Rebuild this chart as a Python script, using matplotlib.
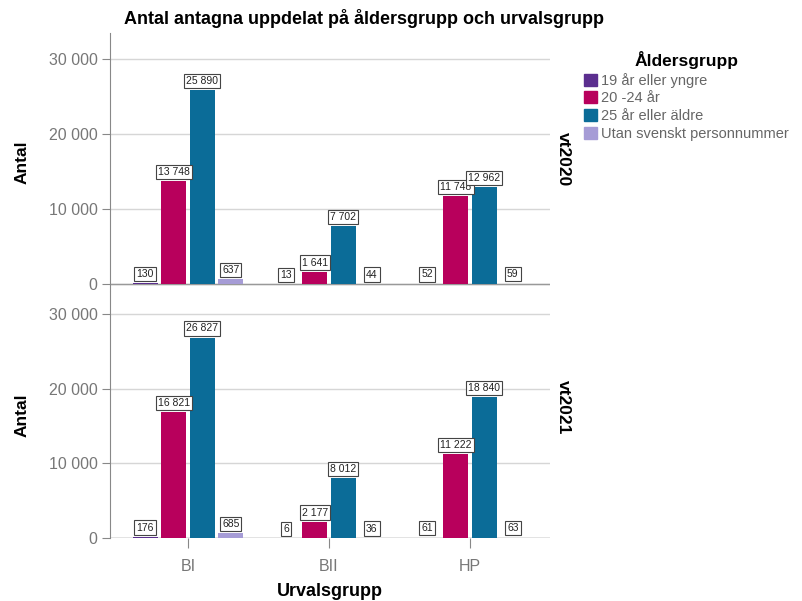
import matplotlib.pyplot as plt
import numpy as np
from matplotlib.patches import Patch

plt.rcParams['font.family'] = ['Liberation Sans', 'DejaVu Sans']

groups = ["BI", "BII", "HP"]
ages = ["19 år eller yngre", "20 -24 år", "25 år eller äldre", "Utan svenskt personnummer"]
colors = ["#5b2e8f", "#b8005c", "#0b6c98", "#a69cd6"]
terms = ["vt2020", "vt2021"]

vt2020 = [
    [130, 13, 52],
    [13748, 1641, 11748],
    [25890, 7702, 12962],
    [637, 44, 59],
]
vt2021 = [
    [176, 6, 61],
    [16821, 2177, 11222],
    [26827, 8012, 18840],
    [685, 36, 63],
]


def fmt(v):
    return f"{v:,}".replace(",", " ")


fig = plt.figure(figsize=(8.03, 6.01), dpi=100)
ax1 = fig.add_axes([110 / 803, 1 - 291 / 601, 440 / 803, 258 / 601])
ax2 = fig.add_axes([110 / 803, 1 - 538 / 601, 440 / 803, 246 / 601])

x = np.arange(len(groups))
step = 0.202
width = 0.177
offsets = [-1.5 * step, -0.5 * step, 0.5 * step, 1.5 * step]

for ax, data, term, ylim, ty in [(ax1, vt2020, terms[0], (-933, 33467), 0.51),
                                 (ax2, vt2021, terms[1], (0, 32933), 0.53)]:
    for i, vals in enumerate(data):
        bars = ax.bar(x + offsets[i], vals, width, color=colors[i], zorder=3)
        for b, v in zip(bars, vals):
            ax.annotate(fmt(v), (b.get_x() + b.get_width() / 2, v),
                        xytext=(0, 3), textcoords="offset points",
                        ha="center", va="bottom", fontsize=7.5, color="#222222",
                        bbox=dict(boxstyle="square,pad=0.2", fc="white",
                                  ec="#444444", lw=0.8), zorder=4)
    ax.set_xlim(-0.553, 2.567)
    ax.set_ylim(*ylim)
    ax.set_yticks([0, 10000, 20000, 30000])
    ax.set_yticklabels([fmt(t) for t in [0, 10000, 20000, 30000]])
    ax.grid(axis="y", color="#d6d6d6", lw=1, zorder=0)
    ax.axhline(0, color="#999999", lw=1, zorder=2)
    for s in ["top", "right", "bottom"]:
        ax.spines[s].set_visible(False)
    ax.spines["left"].set_color("#888888")
    ax.tick_params(axis="y", colors="#888888", labelcolor="#777777",
                   labelsize=11.5, length=6, pad=3)
    ax.set_ylabel("Antal", fontsize=12.5, fontweight="bold", labelpad=14)
    ax.text(1.03, ty, term, transform=ax.transAxes, rotation=-90,
            ha="center", va="center", fontsize=12.5, fontweight="bold")

ax1.set_xticks([])
ax2.set_xticks(x)
ax2.set_xticklabels(groups)
ax2.tick_params(axis="x", colors="#888888", labelcolor="#777777",
                labelsize=11.5, length=7, pad=8)

fig.text(330 / 803, 1 - 592 / 601, "Urvalsgrupp", ha="center", va="center",
         fontsize=13, fontweight="bold")
fig.text(0.453, 0.97, "Antal antagna uppdelat på åldersgrupp och urvalsgrupp",
         ha="center", va="center", fontsize=13, fontweight="bold")

handles = [Patch(color=c) for c in colors]
leg = fig.legend(handles, ages, loc="upper left",
                 bbox_to_anchor=(584 / 803, 1 - 51 / 601),
                 frameon=False, fontsize=10.5, title="Åldersgrupp",
                 title_fontproperties={"size": 12.5, "weight": "bold"},
                 handlelength=0.9, handleheight=0.9, handletextpad=0.3,
                 labelspacing=0.25, borderaxespad=0, borderpad=0)
for t in leg.get_texts():
    t.set_color("#666666")

fig.savefig("out.png", dpi=100)
